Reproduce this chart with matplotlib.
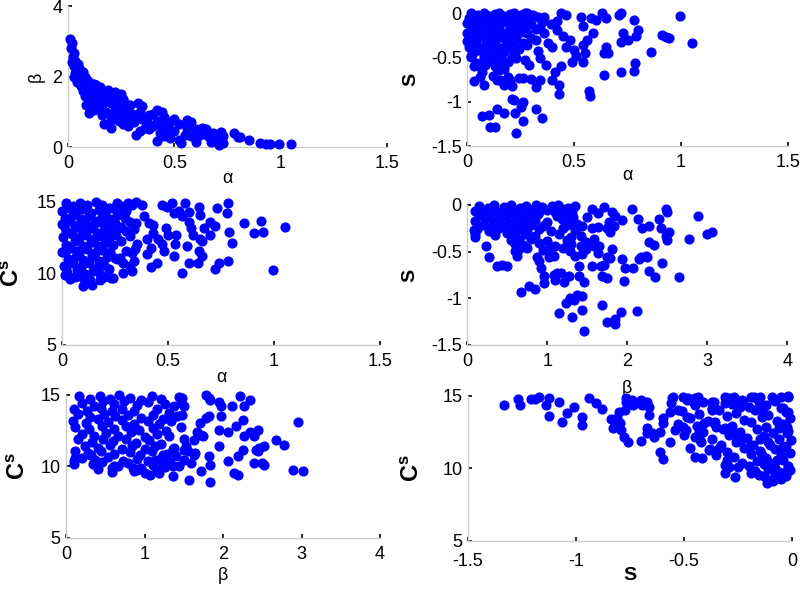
import matplotlib
matplotlib.use("Agg")
import matplotlib.pyplot as plt
import numpy as np

plt.rcParams["font.family"] = ["Liberation Sans", "DejaVu Sans"]
plt.rcParams["axes.unicode_minus"] = False
plt.rcParams["mathtext.fontset"] = "custom"
plt.rcParams["mathtext.rm"] = "Liberation Sans"
plt.rcParams["mathtext.bf"] = "Liberation Sans:bold"

# values, one list of (x, y) pairs per panel
alpha_beta = [
    (0.01, 3.05), (0.02, 2.95), (0.015, 2.8), (0.03, 2.68), (0.025, 2.55), (0.035, 2.45),
    (0.02, 2.4), (0.045, 2.35), (0.03, 2.3), (0.05, 2.25), (0.04, 2.2), (0.06, 2.15),
    (0.035, 2.1), (0.07, 2.12), (0.045, 2.05), (0.03, 2.0), (0.05, 1.95), (0.065, 2.0),
    (0.08, 1.98), (0.04, 1.85), (0.055, 1.8), (0.07, 1.88), (0.09, 1.9), (0.1, 1.85),
    (0.06, 1.72), (0.08, 1.75), (0.1, 1.7), (0.12, 1.8), (0.13, 1.75), (0.07, 1.6),
    (0.09, 1.58), (0.11, 1.62), (0.14, 1.68), (0.15, 1.7), (0.08, 1.45), (0.1, 1.5),
    (0.12, 1.45), (0.14, 1.55), (0.16, 1.6), (0.18, 1.55), (0.085, 1.2), (0.1, 1.3),
    (0.12, 1.35), (0.11, 1.2), (0.13, 1.25), (0.15, 1.4), (0.17, 1.45), (0.19, 1.62),
    (0.2, 1.5), (0.21, 1.4), (0.22, 1.55), (0.24, 1.45), (0.25, 1.5), (0.26, 1.35),
    (0.1, 0.97), (0.12, 1.05), (0.14, 1.1), (0.16, 1.2), (0.18, 1.3), (0.2, 1.25),
    (0.22, 1.2), (0.23, 1.3), (0.27, 1.25), (0.29, 1.2), (0.16, 0.9), (0.18, 1.0),
    (0.2, 0.95), (0.22, 1.05), (0.24, 1.1), (0.26, 1.0), (0.28, 1.05), (0.3, 0.95),
    (0.17, 0.65), (0.2, 0.78), (0.22, 0.85), (0.24, 0.75), (0.25, 0.9), (0.27, 0.82),
    (0.3, 0.8), (0.32, 0.9), (0.33, 1.25), (0.35, 1.15), (0.34, 1.0), (0.2, 0.55),
    (0.26, 0.65), (0.28, 0.6), (0.31, 0.7), (0.35, 0.8), (0.37, 0.72), (0.36, 0.55),
    (0.32, 0.35), (0.34, 0.45), (0.38, 0.5), (0.4, 0.6), (0.38, 0.9), (0.4, 0.95),
    (0.42, 1.05), (0.44, 1.0), (0.45, 0.85), (0.42, 0.75), (0.44, 0.6), (0.43, 0.4),
    (0.42, 0.17), (0.45, 0.3), (0.47, 0.5), (0.48, 0.7), (0.5, 0.8), (0.52, 0.65),
    (0.5, 0.45), (0.48, 0.25), (0.52, 0.2), (0.53, 0.1), (0.55, 0.35), (0.56, 0.55),
    (0.56, 0.78), (0.58, 0.7), (0.6, 0.5), (0.58, 0.3), (0.6, 0.15), (0.62, 0.35),
    (0.63, 0.55), (0.65, 0.5), (0.66, 0.3), (0.67, 0.15), (0.68, 0.4), (0.7, 0.25),
    (0.71, 0.06), (0.72, 0.43), (0.73, 0.3), (0.73, 0.1), (0.72, 0.15), (0.78, 0.39),
    (0.8, 0.29), (0.81, 0.27), (0.85, 0.2), (0.9, 0.1), (0.93, 0.08), (0.95, 0.08),
    (0.99, 0.08), (1.05, 0.09),
]

alpha_S = [
    (0.02, 0.0), (0.05, -0.02), (0.08, 0.0), (0.1, -0.03), (0.13, -0.01), (0.15, 0.0),
    (0.17, -0.03), (0.2, -0.01), (0.22, 0.0), (0.25, -0.02), (0.27, 0.0),
    (0.01, -0.06), (0.04, -0.08), (0.07, -0.05), (0.11, -0.07), (0.14, -0.05),
    (0.18, -0.08), (0.21, -0.06), (0.24, -0.04), (0.29, -0.07), (0.33, -0.05),
    (0.0, -0.11), (0.03, -0.13), (0.06, -0.1), (0.09, -0.12), (0.12, -0.14),
    (0.16, -0.11), (0.19, -0.1), (0.23, -0.13), (0.26, -0.11), (0.3, -0.12),
    (0.35, -0.1), (0.39, -0.12),
    (0.02, -0.17), (0.05, -0.19), (0.1, -0.16), (0.13, -0.18), (0.15, -0.15),
    (0.2, -0.17), (0.22, -0.19), (0.27, -0.16), (0.32, -0.18),
    (0.0, -0.22), (0.04, -0.24), (0.08, -0.21), (0.11, -0.23), (0.14, -0.25),
    (0.17, -0.22), (0.21, -0.24), (0.25, -0.21), (0.28, -0.23), (0.36, -0.22),
    (0.02, -0.28), (0.06, -0.26), (0.12, -0.29), (0.16, -0.27), (0.19, -0.3),
    (0.23, -0.27), (0.3, -0.28),
    (0.0, -0.32), (0.04, -0.34), (0.09, -0.31), (0.13, -0.33), (0.18, -0.35),
    (0.22, -0.32), (0.26, -0.34),
    (0.01, -0.38), (0.07, -0.4), (0.11, -0.37), (0.15, -0.39), (0.2, -0.38),
    (0.24, -0.41),
    (0.03, -0.44), (0.1, -0.43), (0.14, -0.46), (0.17, -0.44), (0.22, -0.47),
    (0.02, -0.5), (0.08, -0.49), (0.12, -0.52), (0.16, -0.5), (0.21, -0.51),
    (0.04, -0.56), (0.1, -0.54), (0.15, -0.57), (0.19, -0.55),
    (0.03, -0.6), (0.07, -0.62), (0.13, -0.6), (0.17, -0.63),
    (0.995, -0.03), (1.05, -0.34), (0.945, -0.28), (0.93, -0.27), (0.91, -0.25),
    (0.86, -0.44), (0.8, -0.19), (0.79, -0.26), (0.78, -0.08), (0.785, -0.56),
    (0.78, -0.65), (0.72, -0.66), (0.64, -0.7), (0.57, -0.88), (0.575, -0.94),
    (0.72, 0.0), (0.71, -0.02), (0.63, 0.0), (0.65, -0.06), (0.73, -0.23), (0.72, -0.33),
    (0.75, -0.3), (0.65, -0.38), (0.64, -0.45), (0.66, -0.45), (0.59, -0.23),
    (0.6, -0.08), (0.58, -0.06), (0.53, -0.04), (0.54, -0.15), (0.56, -0.3),
    (0.54, -0.36), (0.55, -0.45), (0.54, -0.55), (0.51, -0.49), (0.49, -0.55),
    (0.5, -0.42), (0.48, -0.3), (0.46, -0.02), (0.44, 0.0), (0.42, -0.09), (0.42, -0.19),
    (0.45, -0.26), (0.46, -0.38), (0.44, -0.6), (0.41, -0.66), (0.395, -0.76),
    (0.43, -0.81), (0.43, -0.91), (0.38, -0.34), (0.395, -0.38), (0.37, -0.59),
    (0.33, -0.43), (0.34, -0.51), (0.34, -0.76), (0.32, -0.84), (0.32, -1.08),
    (0.35, -1.18), (0.3, -0.74), (0.32, -0.3), (0.34, -0.17), (0.36, -0.04),
    (0.31, -0.02), (0.28, 0.0), (0.28, -0.36), (0.27, -0.53), (0.29, -0.59),
    (0.26, -0.73), (0.24, -0.73), (0.21, -0.82), (0.2, -0.76), (0.19, -0.72),
    (0.17, -0.81), (0.155, -0.76), (0.14, -0.75), (0.12, -0.71), (0.14, -0.62),
    (0.15, -0.64), (0.23, -0.51), (0.22, -0.45), (0.21, -0.97), (0.22, -0.98),
    (0.26, -1.0), (0.25, -1.06), (0.225, -1.13), (0.26, -1.22), (0.23, -1.35),
    (0.14, -1.08), (0.174, -1.13), (0.1, -1.15), (0.067, -1.16), (0.106, -1.28),
    (0.13, -1.28), (0.08, -0.81), (0.034, -0.77), (0.062, -0.72), (0.07, -0.66),
    (0.054, -0.6), (0.04, -0.57), (0.016, -0.49), (0.023, -0.42), (0.008, -0.34),
    (0.06, -0.42), (0.09, -0.47), (0.085, -0.59), (0.07, -0.55),
]

alpha_Cs = [
    (0.02, 14.92), (0.05, 14.7), (0.085, 14.95), (0.12, 14.78), (0.16, 14.97),
    (0.19, 14.82), (0.22, 14.6), (0.26, 14.9), (0.29, 14.72), (0.31, 14.95),
    (0.0, 14.35), (0.035, 14.6), (0.065, 14.3), (0.1, 14.52), (0.135, 14.2),
    (0.175, 14.45), (0.205, 14.28), (0.24, 14.58), (0.27, 14.25), (0.3, 14.4),
    (0.015, 13.9), (0.05, 14.1), (0.09, 13.82), (0.125, 14.05), (0.155, 13.7),
    (0.19, 13.95), (0.225, 13.78), (0.26, 14.1), (0.295, 13.88),
    (0.0, 13.45), (0.04, 13.7), (0.075, 13.4), (0.11, 13.55), (0.145, 13.3),
    (0.18, 13.62), (0.215, 13.42), (0.25, 13.5), (0.28, 13.25), (0.32, 13.6),
    (0.02, 13.0), (0.06, 13.22), (0.095, 12.92), (0.13, 13.15), (0.165, 12.85),
    (0.2, 13.05), (0.235, 12.9), (0.27, 13.2), (0.3, 12.95),
    (0.005, 12.55), (0.045, 12.75), (0.08, 12.45), (0.115, 12.68), (0.15, 12.4),
    (0.185, 12.62), (0.22, 12.5), (0.255, 12.72),
    (0.02, 12.0), (0.06, 12.25), (0.1, 11.95), (0.135, 12.18), (0.17, 11.9),
    (0.205, 12.12), (0.24, 11.98), (0.28, 12.3),
    (0.0, 11.5), (0.04, 11.75), (0.08, 11.45), (0.12, 11.7), (0.155, 11.42),
    (0.19, 11.65), (0.225, 11.5),
    (0.03, 11.0), (0.065, 11.25), (0.1, 10.95), (0.14, 11.2), (0.175, 10.9),
    (0.21, 11.15), (0.26, 11.0),
    (0.01, 10.5), (0.05, 10.75), (0.09, 10.45), (0.125, 10.7), (0.165, 10.4),
    (0.2, 10.62),
    (0.025, 10.05), (0.07, 10.25), (0.11, 9.95), (0.145, 10.2), (0.18, 9.98),
    (0.22, 10.3),
    (0.04, 9.6), (0.085, 9.8), (0.13, 9.55), (0.2, 9.78),
    (1.05, 13.23), (0.997, 10.23), (0.94, 13.68), (0.95, 12.9), (0.905, 12.8),
    (0.86, 13.5), (0.785, 14.9), (0.78, 14.25), (0.79, 12.9), (0.8, 12.1),
    (0.785, 10.84), (0.74, 10.7), (0.72, 10.34), (0.73, 14.55), (0.72, 13.3),
    (0.7, 12.7), (0.7, 13.6), (0.65, 14.1), (0.645, 14.66), (0.67, 13.2), (0.65, 12.4),
    (0.66, 12.3), (0.645, 11.6), (0.66, 11.25), (0.64, 10.7), (0.6, 10.7), (0.61, 13.2),
    (0.62, 12.7), (0.6, 13.6), (0.6, 14.3), (0.58, 14.9), (0.565, 14.0), (0.55, 14.4),
    (0.53, 14.2), (0.52, 14.9), (0.495, 14.66), (0.47, 14.8), (0.49, 13.2), (0.5, 12.7),
    (0.54, 12.7), (0.535, 12.05), (0.59, 11.9), (0.53, 11.25), (0.565, 10.0),
    (0.47, 12.05), (0.455, 12.4), (0.48, 11.6), (0.45, 10.7), (0.42, 10.45),
    (0.42, 11.8), (0.4, 11.35), (0.4, 12.4), (0.43, 12.85), (0.43, 13.4), (0.41, 13.5),
    (0.385, 14.0), (0.377, 14.8), (0.35, 15.0), (0.33, 14.8), (0.35, 13.5), (0.34, 13.1),
    (0.32, 12.6), (0.355, 12.05), (0.33, 11.4), (0.34, 10.9), (0.32, 10.55),
    (0.33, 10.2), (0.345, 11.7), (0.3, 11.6), (0.29, 10.7), (0.29, 10.0), (0.275, 11.1),
    (0.25, 11.1), (0.24, 9.66), (0.23, 9.66), (0.18, 9.55), (0.14, 9.2), (0.1, 9.1),
    (0.1, 9.66), (0.063, 9.77), (0.016, 9.9), (0.02, 10.34), (0.008, 13.3),
    (0.016, 11.5), (0.07, 11.6),
]

beta_S = [
    (0.15, -0.01), (0.26, -0.03), (0.34, 0.0), (0.46, -0.02), (0.55, 0.0), (0.66, -0.03),
    (0.74, -0.01), (0.86, 0.0), (0.94, -0.02), (1.06, -0.01), (1.14, 0.0), (1.26, -0.03),
    (1.35, -0.01),
    (0.1, -0.06), (0.21, -0.08), (0.3, -0.05), (0.41, -0.07), (0.5, -0.04), (0.61, -0.08),
    (0.69, -0.06), (0.81, -0.05), (0.9, -0.08), (1.0, -0.05), (1.1, -0.07), (1.2, -0.04),
    (1.31, -0.08),
    (0.15, -0.11), (0.27, -0.13), (0.38, -0.1), (0.49, -0.12), (0.58, -0.1),
    (0.68, -0.13), (0.79, -0.11), (0.88, -0.1), (1.12, -0.12), (1.22, -0.1), (1.32, -0.13),
    (0.1, -0.17), (0.22, -0.15), (0.34, -0.18), (0.45, -0.16), (0.55, -0.19),
    (0.63, -0.15), (0.72, -0.17), (0.85, -0.16), (1.0, -0.18), (1.18, -0.15), (1.3, -0.17),
    (0.2, -0.21), (0.31, -0.23), (0.42, -0.2), (0.51, -0.22), (0.6, -0.2), (0.7, -0.24),
    (0.8, -0.21), (0.95, -0.23), (1.25, -0.21),
    (0.12, -0.26), (0.27, -0.28), (0.4, -0.25), (0.55, -0.27), (0.65, -0.26),
    (0.75, -0.29), (0.9, -0.26), (1.05, -0.28), (1.2, -0.25), (1.35, -0.27),
    (0.1, -0.31), (0.35, -0.32), (0.5, -0.3), (0.6, -0.33), (0.72, -0.31), (0.85, -0.33),
    (1.15, -0.31), (1.3, -0.34),
    (0.55, -0.37), (0.65, -0.38), (0.8, -0.36), (1.0, -0.39), (1.25, -0.37),
    (0.6, -0.42), (0.7, -0.43), (0.9, -0.41), (1.1, -0.44), (1.3, -0.42),
    (0.65, -0.47), (0.75, -0.46), (0.95, -0.48), (1.2, -0.46),
    (0.1, -0.34), (0.09, -0.27), (0.27, -0.56), (0.23, -0.44),
    (3.0, -0.31), (3.06, -0.29), (2.77, -0.36), (2.89, -0.12), (2.65, -0.77),
    (2.49, -0.04), (2.5, -0.07), (2.4, -0.15), (2.42, -0.25), (2.48, -0.33),
    (2.5, -0.38), (2.52, -0.29), (2.44, -0.62), (2.35, -0.77), (2.27, -0.71),
    (2.27, -0.4), (2.34, -0.43), (2.27, -0.22), (2.19, -0.25), (2.13, -0.15),
    (2.06, -0.04), (2.24, -0.55), (2.25, -0.56), (2.17, -0.56), (2.15, -0.58),
    (2.12, -1.14), (2.07, -0.67), (1.97, -0.67), (1.96, -0.81), (1.94, -0.58),
    (1.94, -0.16), (1.85, -0.12), (1.81, -0.07), (1.77, -0.18), (1.83, -0.22),
    (1.79, -0.29), (1.75, -0.25), (1.71, -0.02), (1.81, -0.47), (1.78, -0.57),
    (1.75, -0.56), (1.71, -0.64), (1.67, -0.65), (1.69, -0.76), (1.75, -0.78),
    (1.69, -1.07), (1.75, -1.25), (1.85, -1.27), (1.85, -1.22), (1.92, -1.15),
    (1.56, -0.65), (1.63, -0.51), (1.65, -0.44), (1.58, -0.44), (1.58, -0.36),
    (1.56, -0.25), (1.63, -0.24), (1.63, -0.09), (1.56, -0.04), (1.5, -0.13),
    (1.48, -0.4), (1.48, -0.47), (1.44, -0.53), (1.42, -0.44), (1.42, -0.33),
    (1.44, -0.22), (1.375, -0.2), (1.46, -1.35), (1.44, -1.12), (1.44, -0.98),
    (1.375, -0.96), (1.33, -1.02), (1.29, -1.0), (1.23, -1.05), (1.31, -1.2),
    (1.15, -1.16), (1.46, -0.82), (1.4, -0.65), (1.4, -0.76), (1.35, -0.55),
    (1.29, -0.49), (1.27, -0.76), (1.21, -0.82), (1.17, -0.73), (1.125, -0.73),
    (1.08, -0.75), (1.1, -0.8), (1.04, -0.47), (1.08, -0.55), (1.02, -0.56),
    (1.06, -0.45), (0.96, -0.76), (0.96, -0.84), (0.92, -0.67), (0.9, -0.6),
    (0.875, -0.56), (0.85, -0.9), (0.77, -0.87), (0.67, -0.93), (0.625, -0.55),
    (0.6, -0.49), (0.5, -0.65), (0.44, -0.64), (0.375, -0.65),
]

beta_Cs = [
    (0.17, 14.9), (0.31, 14.7), (0.43, 14.95), (0.56, 14.75), (0.67, 14.98), (0.81, 14.8),
    (0.96, 14.62), (1.09, 14.9), (1.21, 14.7),
    (0.2, 14.45), (0.36, 14.25), (0.47, 14.55), (0.61, 14.35), (0.74, 14.6), (0.9, 14.3),
    (1.04, 14.5), (1.26, 14.4), (1.38, 14.2),
    (0.1, 14.05), (0.27, 13.9), (0.44, 14.12), (0.59, 13.85), (0.71, 14.05), (0.86, 13.9),
    (1.16, 14.0), (1.31, 13.75),
    (0.15, 13.65), (0.31, 13.45), (0.49, 13.7), (0.63, 13.5), (0.79, 13.62), (0.96, 13.4),
    (1.11, 13.6), (1.24, 13.35), (1.41, 13.55),
    (0.09, 13.2), (0.26, 13.05), (0.41, 13.3), (0.54, 13.1), (0.71, 13.25), (0.87, 13.0),
    (1.04, 13.15), (1.19, 12.95), (1.34, 13.2),
    (0.12, 12.75), (0.29, 12.6), (0.46, 12.85), (0.61, 12.65), (0.77, 12.8), (0.93, 12.55),
    (1.11, 12.7), (1.27, 12.5), (1.46, 12.75),
    (0.2, 12.3), (0.36, 12.1), (0.51, 12.35), (0.66, 12.15), (0.83, 12.4), (1.01, 12.05),
    (1.16, 12.3), (1.31, 12.1),
    (0.15, 11.9), (0.33, 11.7), (0.47, 11.95), (0.6, 11.75), (0.76, 11.92), (0.89, 11.65),
    (1.06, 11.85), (1.21, 11.6), (1.5, 11.9),
    (0.24, 11.45), (0.41, 11.3), (0.56, 11.5), (0.71, 11.25), (0.84, 11.45), (1.01, 11.2),
    (1.14, 11.4), (1.36, 11.2),
    (0.12, 11.05), (0.29, 10.9), (0.44, 11.1), (0.61, 10.85), (0.81, 11.0), (0.94, 10.8),
    (1.09, 11.05), (1.29, 10.85), (1.55, 11.1),
    (0.2, 10.6), (0.37, 10.45), (0.53, 10.65), (0.73, 10.4), (0.91, 10.55), (1.04, 10.35),
    (1.21, 10.6),
    (0.1, 10.35), (0.34, 10.15), (0.46, 10.3), (0.66, 10.05), (0.79, 10.25), (1.11, 10.1),
    (1.31, 10.3), (1.44, 10.05),
    (0.41, 9.85), (0.61, 10.0), (0.96, 9.9), (1.16, 9.75), (1.26, 9.95),
    (0.58, 9.6), (0.86, 9.7), (1.0, 9.55),
    (2.96, 13.14), (3.02, 9.65), (2.89, 9.77), (2.78, 11.47), (2.67, 11.86),
    (2.52, 11.4), (2.52, 10.1), (2.5, 10.23), (2.39, 10.23), (2.46, 11.3), (2.44, 11.05),
    (2.42, 11.16), (2.44, 12.56), (2.39, 12.1), (2.35, 12.44), (2.34, 14.65),
    (2.22, 14.9), (2.27, 14.2), (2.26, 13.26), (2.27, 12.1), (2.25, 11.16), (2.19, 10.7),
    (2.19, 9.42), (2.14, 9.53), (2.16, 12.8), (2.12, 14.2), (2.06, 10.35), (2.07, 12.44),
    (1.97, 14.2), (1.95, 14.53), (1.97, 13.5), (1.95, 12.56), (1.95, 11.4), (1.84, 14.65),
    (1.82, 14.77), (1.78, 15.0), (1.82, 13.5), (1.78, 13.37), (1.71, 13.02),
    (1.67, 12.44), (1.74, 12.1), (1.72, 12.2), (1.63, 11.86), (1.64, 10.93),
    (1.63, 10.81), (1.59, 10.23), (1.72, 9.65), (1.84, 8.9), (1.82, 10.7), (1.83, 10.12),
    (1.57, 9.07), (1.53, 11.4), (1.5, 11.16), (1.5, 10.47), (1.4, 10.7), (1.36, 10.0),
    (1.38, 11.28), (1.36, 9.3), (1.48, 13.6), (1.5, 14.2), (1.46, 14.42), (1.48, 14.77),
    (1.44, 14.88), (1.24, 10.81), (1.23, 10.12), (1.18, 9.53), (1.07, 9.42),
    (1.13, 10.47), (0.85, 9.88), (0.91, 9.77), (0.59, 9.88), (0.106, 10.19),
    (0.114, 10.58), (0.32, 10.81), (0.275, 10.93),
]

S_Cs = [
    (-0.48, 14.85), (-0.41, 14.6), (-0.31, 14.95), (-0.23, 14.7), (-0.15, 14.9),
    (-0.08, 14.65), (-0.02, 14.95),
    (-0.45, 14.35), (-0.37, 14.15), (-0.28, 14.45), (-0.2, 14.25), (-0.12, 14.4),
    (-0.05, 14.2),
    (-0.51, 13.95), (-0.43, 13.75), (-0.34, 14.0), (-0.26, 13.8), (-0.17, 14.05),
    (-0.11, 13.7), (-0.03, 13.9),
    (-0.47, 13.5), (-0.39, 13.3), (-0.3, 13.6), (-0.22, 13.35), (-0.14, 13.55),
    (-0.07, 13.3), (-0.01, 13.5),
    (-0.53, 13.1), (-0.44, 12.9), (-0.36, 13.15), (-0.28, 12.95), (-0.19, 13.2),
    (-0.12, 12.85), (-0.04, 13.05),
    (-0.49, 12.65), (-0.41, 12.5), (-0.32, 12.75), (-0.24, 12.55), (-0.16, 12.7),
    (-0.09, 12.45), (-0.02, 12.6),
    (-0.45, 12.2), (-0.37, 12.05), (-0.29, 12.3), (-0.21, 12.1), (-0.13, 12.25),
    (-0.06, 12.0),
    (-0.42, 11.8), (-0.33, 11.6), (-0.26, 11.85), (-0.18, 11.65), (-0.11, 11.8),
    (-0.03, 11.55),
    (-0.38, 11.35), (-0.3, 11.15), (-0.22, 11.4), (-0.15, 11.2), (-0.08, 11.35),
    (-0.01, 11.1),
    (-0.35, 10.95), (-0.27, 10.8), (-0.19, 11.0), (-0.12, 10.75), (-0.05, 10.95),
    (-0.3, 10.6), (-0.23, 10.4), (-0.16, 10.55), (-0.1, 10.35), (-0.04, 10.6),
    (-0.2, 10.15), (-0.13, 10.3), (-0.08, 10.05), (-0.02, 10.2),
    (-0.17, 9.85), (-0.11, 9.95), (-0.06, 9.75), (-0.01, 9.9),
    (-0.13, 9.5), (-0.08, 9.6), (-0.03, 9.45), (-0.09, 9.15), (-0.05, 9.25),
    (-0.14, 10.9), (-0.07, 10.6), (-0.1, 11.6), (-0.06, 12.8), (-0.15, 12.0),
    (-0.2, 11.5), (-0.24, 11.9), (-0.27, 12.4),
    (-1.333, 14.38), (-1.27, 14.8), (-1.257, 14.38), (-1.21, 14.77), (-1.19, 14.8),
    (-1.17, 14.9), (-1.14, 14.38), (-1.124, 14.89), (-1.124, 13.62), (-1.08, 14.56),
    (-1.064, 13.23), (-1.04, 13.85), (-1.01, 14.26), (-0.97, 13.57), (-0.97, 13.0),
    (-0.94, 14.89), (-0.907, 14.5), (-0.88, 14.08), (-0.84, 13.4), (-0.82, 13.1),
    (-0.827, 12.77), (-0.81, 13.46), (-0.8, 13.92), (-0.796, 13.16), (-0.79, 12.66),
    (-0.78, 12.2), (-0.757, 11.85), (-0.773, 14.03), (-0.768, 14.6), (-0.768, 14.84),
    (-0.74, 14.72), (-0.734, 14.38), (-0.7, 14.72), (-0.695, 14.38), (-0.672, 14.6),
    (-0.664, 14.26), (-0.672, 12.77), (-0.672, 12.43), (-0.66, 13.69), (-0.65, 12.43),
    (-0.64, 12.2), (-0.7, 11.92), (-0.61, 11.16), (-0.595, 10.63), (-0.613, 12.54),
    (-0.595, 13.11), (-0.595, 13.46), (-0.567, 13.92), (-0.567, 11.85), (-0.56, 14.49),
    (-0.557, 14.84), (-0.55, 14.95), (-0.54, 12.66), (-0.53, 14.03), (-0.505, 14.95),
    (-0.505, 12.88), (-0.5, 12.3), (-0.484, 14.72), (-0.455, 14.5), (-0.447, 14.84),
    (-0.437, 14.95), (-0.486, 13.57), (-0.47, 11.4), (-0.447, 10.82), (-0.417, 10.7),
    (-0.427, 11.97), (-0.432, 12.54), (-0.406, 13.11), (-0.386, 11.28), (-0.37, 14.6),
    (-0.37, 14.03), (-0.362, 14.6), (-0.355, 13.23), (-0.35, 12.88), (-0.339, 11.39),
    (-0.308, 12.77), (-0.308, 10.24), (-0.308, 9.67), (-0.293, 10.13), (-0.262, 9.44),
    (-0.25, 10.13), (-0.31, 14.5), (-0.293, 14.84), (-0.27, 14.95), (-0.255, 14.5),
    (-0.24, 14.26), (-0.225, 14.6), (-0.192, 14.95), (-0.177, 14.95), (-0.155, 14.6),
    (-0.14, 14.03), (-0.094, 14.95), (-0.08, 14.72), (-0.05, 14.95), (-0.02, 15.0),
    (-0.04, 14.15), (-0.02, 13.92), (-0.022, 12.88), (-0.022, 12.43), (-0.006, 11.97),
    (-0.04, 11.5), (-0.115, 8.98), (-0.1, 9.2), (-0.07, 9.32), (-0.04, 9.55),
    (-0.022, 9.9), (-0.155, 9.55), (-0.19, 9.67),
]

alpha_ticks = [0, 0.5, 1, 1.5]
beta_ticks = [0, 1, 2, 3, 4]
S_ticks = [-1.5, -1, -0.5, 0]
Cs_ticks = [5, 10, 15]
beta_y_ticks = [0, 2, 4]

alpha_lab = "α"
beta_lab = "β"
S_lab = "S"
Cs_lab = r"$\mathbf{C}^{\mathbf{s}}$"

fig = plt.figure(figsize=(8.0, 5.89), dpi=100)

panels = [
    # data, rect, xlim, ylim, xticks, yticks, xlabel, ylabel, xlab y, ylab x, x pad
    (alpha_beta, [0.085, 0.7504, 0.399, 0.2394], (0, 1.5), (0, 4), alpha_ticks,
     beta_y_ticks, alpha_lab, beta_lab, -0.22, -0.10, 6),
    (alpha_S, [0.584, 0.7521, 0.401, 0.2258], (0, 1.5), (-1.5, 0), alpha_ticks,
     S_ticks, alpha_lab, S_lab, -0.22, -0.175, 6),
    (alpha_Cs, [0.0775, 0.4143, 0.3975, 0.2428], (0, 1.5), (5, 15), alpha_ticks,
     Cs_ticks, alpha_lab, Cs_lab, -0.23, -0.155, 6),
    (beta_S, [0.584, 0.4143, 0.4, 0.2377], (0, 4), (-1.5, 0), beta_ticks,
     S_ticks, beta_lab, S_lab, -0.31, -0.18, 6),
    (beta_Cs, [0.0825, 0.0866, 0.3925, 0.2428], (0, 4), (5, 15), beta_ticks,
     Cs_ticks, beta_lab, Cs_lab, -0.26, -0.15, 6),
    (S_Cs, [0.585, 0.0815, 0.405, 0.2462], (-1.5, 0), (5, 15), S_ticks,
     Cs_ticks, S_lab, Cs_lab, -0.24, -0.17, 8.5),
]

for data, rect, xl, yl, xt, yt, xlab, ylab, xly, ylx, xpad in panels:
    ax = fig.add_axes(rect)
    x, y = np.array(data).T
    ax.plot(x, y, "o", color="blue", mec="blue", ms=6.3, clip_on=False, zorder=3)
    ax.set_xlim(*xl)
    ax.set_ylim(*yl)
    ax.set_xticks(xt)
    ax.set_yticks(yt)
    ax.set_xticklabels([f"{v:g}" for v in xt])
    ax.set_yticklabels([f"{v:g}" for v in yt])
    for side in ["top", "right"]:
        ax.spines[side].set_visible(False)
    for side in ["left", "bottom"]:
        ax.spines[side].set_color("#cccccc")
        ax.spines[side].set_linewidth(1.0)
    ax.tick_params(direction="in", length=3, width=1.2, color="black",
                   labelsize=13)
    ax.tick_params(axis="x", pad=xpad)
    ax.tick_params(axis="y", pad=4)
    bold = xlab == S_lab
    ax.set_xlabel(xlab, fontsize=14 if bold else 13,
                  fontweight="bold" if bold else "normal")
    ax.xaxis.set_label_coords(0.5, xly)
    ax.xaxis.label.set_va("center")
    if ylab == Cs_lab:
        ax.set_ylabel(ylab, fontsize=17)
    elif ylab == S_lab:
        ax.set_ylabel(ylab, fontsize=14, fontweight="bold")
    else:
        ax.set_ylabel(ylab, fontsize=13)
    ax.yaxis.set_label_coords(ylx, 0.5)
    ax.yaxis.label.set_va("center")

fig.savefig("out.png", dpi=100)
